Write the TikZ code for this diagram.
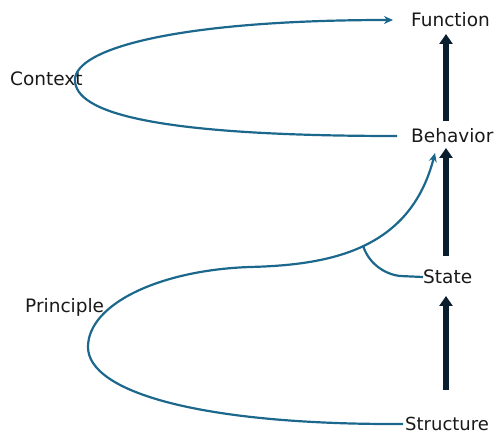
\documentclass[tikz,border=0pt]{standalone}
\usepackage{fontspec}
\setmainfont{DejaVu Sans}
\usetikzlibrary{arrows.meta}
\definecolor{linkblue}{RGB}{28,104,140}
\definecolor{navy}{RGB}{10,30,46}
\tikzset{
  lbl/.style={inner sep=0pt, anchor=west, font=\fontsize{18.5}{22}\selectfont, text=black!90},
  link/.style={draw=linkblue, line width=2.2pt},
  linkarrow/.style={link, -{Stealth[length=9pt,width=8pt]}},
  rise/.style={draw=navy, line width=6pt, -{Triangle[length=10pt,width=13pt]}}
}
\begin{document}
\begin{tikzpicture}[x=1pt,y=-1pt]
\useasboundingbox (0,0) rectangle (498,435);
% concept labels
\node[lbl] (function)  at (411,20)  {Function};
\node[lbl] (behavior)  at (411,136) {Behavior};
\node[lbl] (state)     at (423,277) {State};
\node[lbl,font=\fontsize{18}{22}\selectfont] (structure) at (405,424) {Structure};
\node[lbl] (context)   at (10,79)   {Context};
\node[lbl] (principle) at (25,307)  {Principle};
% vertical chain Structure -> State -> Behavior -> Function
\draw[rise] (446,390) -- (446,296);
\draw[rise] (446,256) -- (446,148);
\draw[rise] (446,121) -- (446,34);
% Context loop from Behavior to Function
\draw[linkarrow] ([xshift=-14pt]behavior.west)
  .. controls (150,136) and (75,112) .. (75,80)
  .. controls (75,48) and (180,20) .. ([xshift=-18pt]function.west);
% Principle loop from Structure to Behavior
\coordinate (branch) at (363,245.5);
\draw[linkarrow] ([xshift=-2pt]structure.west)
  .. controls (200,425) and (88,392) .. (88,347)
  .. controls (88,304) and (160,270) .. (250,267)
  .. controls (330,265) and (410,250) .. (435,153);
% State joins the Principle loop
\draw[link] (state.west) -- (400,276)
  .. controls (383,274) and (368,262) .. (branch);
\end{tikzpicture}
\end{document}
